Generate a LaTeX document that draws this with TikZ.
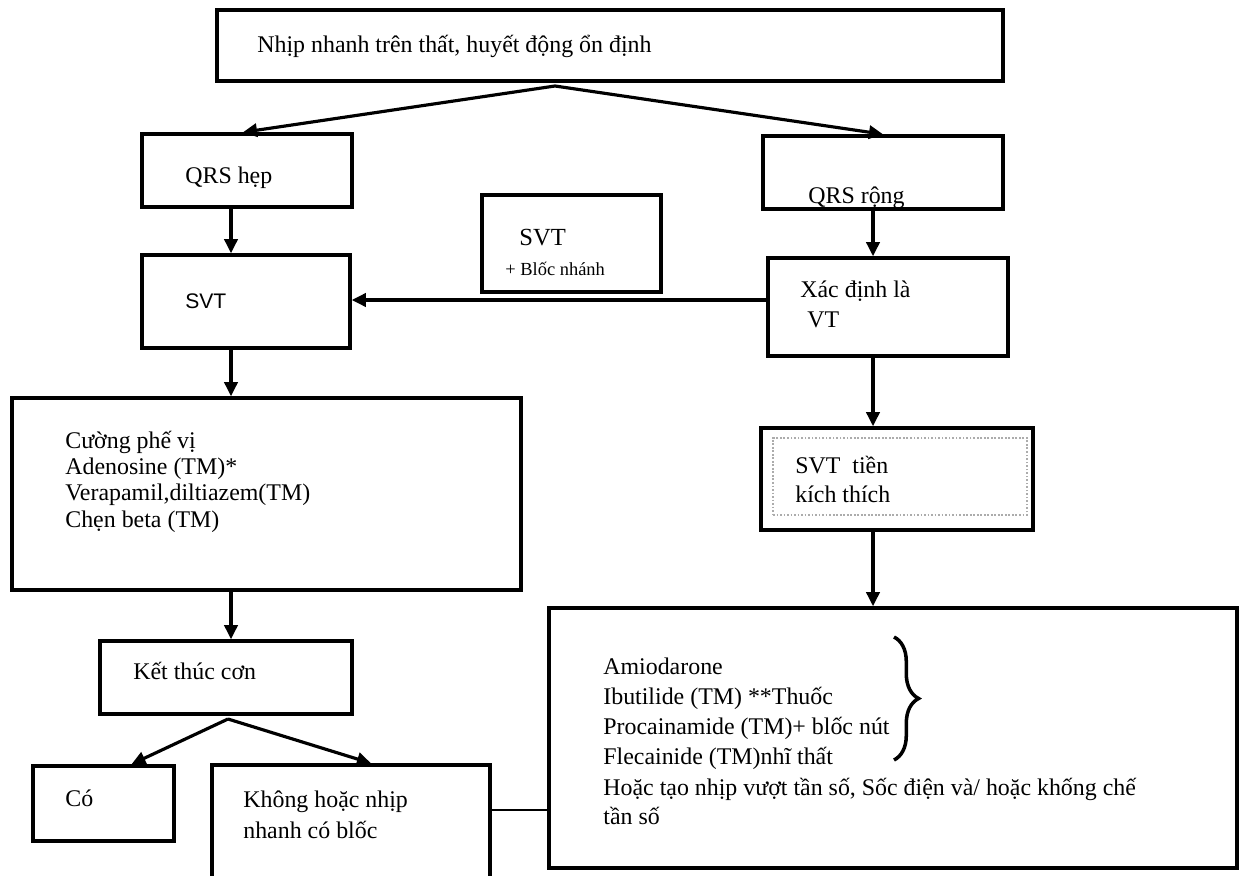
\documentclass[tikz,border=0pt]{standalone}
\usepackage{fontspec}
\setmainfont{Liberation Serif}
\setsansfont{Liberation Sans}
\usetikzlibrary{arrows.meta,decorations.pathreplacing,fit}

\begin{document}
\begin{tikzpicture}[x=0.02cm,y=-0.02cm,
  box/.style={draw,line width=2pt,inner sep=0pt,rectangle},
  arr/.style={line width=1.8pt,-{Triangle[length=8pt,width=7.5pt]}},
  link/.style={line width=1.3pt},
  lbl/.style={anchor=base west,inner sep=0pt,font=\fontsize{13.6}{16}\selectfont},
  small/.style={anchor=base west,inner sep=0pt,font=\fontsize{10.5}{12}\selectfont},
  sans/.style={anchor=base west,inner sep=0pt,font=\sffamily\fontsize{12}{14}\selectfont}]
\useasboundingbox (0,0) rectangle (1243,875);
\fill[white] (0,0) rectangle (1243,875);

% boxes
\node[box,fit={(217,10)(1003,81)}] (top) {};
\node[box,fit={(142,134)(352,207)}] (qh) {};
\node[box,fit={(763,136)(1003,209)}] (qr) {};
\node[box,fit={(142,255)(350,348)}] (svt) {};
\node[box,fit={(482,195)(661,292)}] (svtb) {};
\node[box,fit={(768,258)(1008,356)}] (vt) {};
\node[box,fit={(761,428)(1033,530)}] (pre) {};
\node[draw=gray!65,line width=1.3pt,dash pattern=on 1pt off 1pt,inner sep=0pt,fit={(773,438)(1027,515)}] (preIn) {};
\node[box,fit={(12,398)(521,590)}] (drug) {};
\node[box,fit={(100,641)(352,714)}] (end) {};
\node[box,fit={(33,766)(174,841)}] (co) {};
\node[box,fit={(212,765)(490,895)}] (kh) {};
\node[box,fit={(549,608)(1237,868)}] (big) {};

% texts
\node[lbl] (tTop) at (257,53) {Nhịp nhanh trên thất, huyết động ổn định};
\node[lbl] (tQh) at (185,183) {QRS hẹp};
\node[lbl] (tQr) at (808,203) {QRS rộng};
\node[sans] (tSvt) at (185,308) {SVT};
\node[lbl,font=\fontsize{14}{16}\selectfont] (tSvtb1) at (519,245) {SVT};
\node[small] (tSvtb2) at (505,275) {+ Blốc nhánh};
\node[lbl] (tVt1) at (800,297) {Xác định là};
\node[lbl] (tVt2) at (807,327) {VT};
\node[lbl] (tPre1) at (795,473) {SVT~ tiền};
\node[lbl] (tPre2) at (795,502) {kích thích};
\node[lbl] (tD1) at (65,448) {Cường phế vị};
\node[lbl] (tD2) at (65,474) {Adenosine (TM)*};
\node[lbl] (tD3) at (65,500) {Verapamil,diltiazem(TM)};
\node[lbl] (tD4) at (65,527) {Chẹn beta (TM)};
\node[lbl] (tEnd) at (133,679) {Kết thúc cơn};
\node[lbl] (tCo) at (65,806) {Có};
\node[lbl] (tKh1) at (243,807) {Không hoặc nhịp};
\node[lbl] (tKh2) at (243,838) {nhanh có blốc};
\node[lbl] (tB1) at (603,674) {Amiodarone};
\node[lbl] (tB2) at (603,704) {Ibutilide (TM) **Thuốc};
\node[lbl] (tB3) at (603,734) {Procainamide (TM)+ blốc nút};
\node[lbl] (tB4) at (603,764) {Flecainide (TM)nhĩ thất};
\node[lbl] (tB5) at (603,795) {Hoặc tạo nhịp vượt tần số, Sốc điện và/ hoặc khống chế};
\node[lbl] (tB6) at (603,824) {tần số};

% brace grouping the four drugs
\draw[line width=2pt,decorate,decoration={brace,amplitude=14pt}] (894,637) -- (894,760);

% connectors
\coordinate (fork) at (555,86);
\coordinate (fork2) at (228,719);
\coordinate (colL) at (231,0);
\coordinate (colR) at (873,0);
\coordinate (rowH) at (0,300);
\coordinate (rowK) at (0,810);

\draw[arr] (fork) -- ([xshift=-0.08cm]qh.north);
\draw[arr] (fork) -- (qr.north);
\draw[arr] (qh.south -| colL) -- (svt.north -| colL);
\draw[arr] (svt.south -| colL) -- (drug.north -| colL);
\draw[arr] (drug.south -| colL) -- (end.north -| colL);
\draw[arr] (qr.south -| colR) -- (vt.north -| colR);
\draw[arr] (vt.south -| colR) -- (pre.north -| colR);
\draw[arr] (pre.south -| colR) -- (big.north -| colR);
\draw[arr] (vt.west |- rowH) -- (svt.east |- rowH);
\draw[arr] (fork2) -- ([xshift=0.56cm]co.north);
\draw[arr] (fork2) -- ([xshift=0.4cm]kh.north);
\draw[link] (kh.east |- rowK) -- (big.west |- rowK);
\end{tikzpicture}
\end{document}
